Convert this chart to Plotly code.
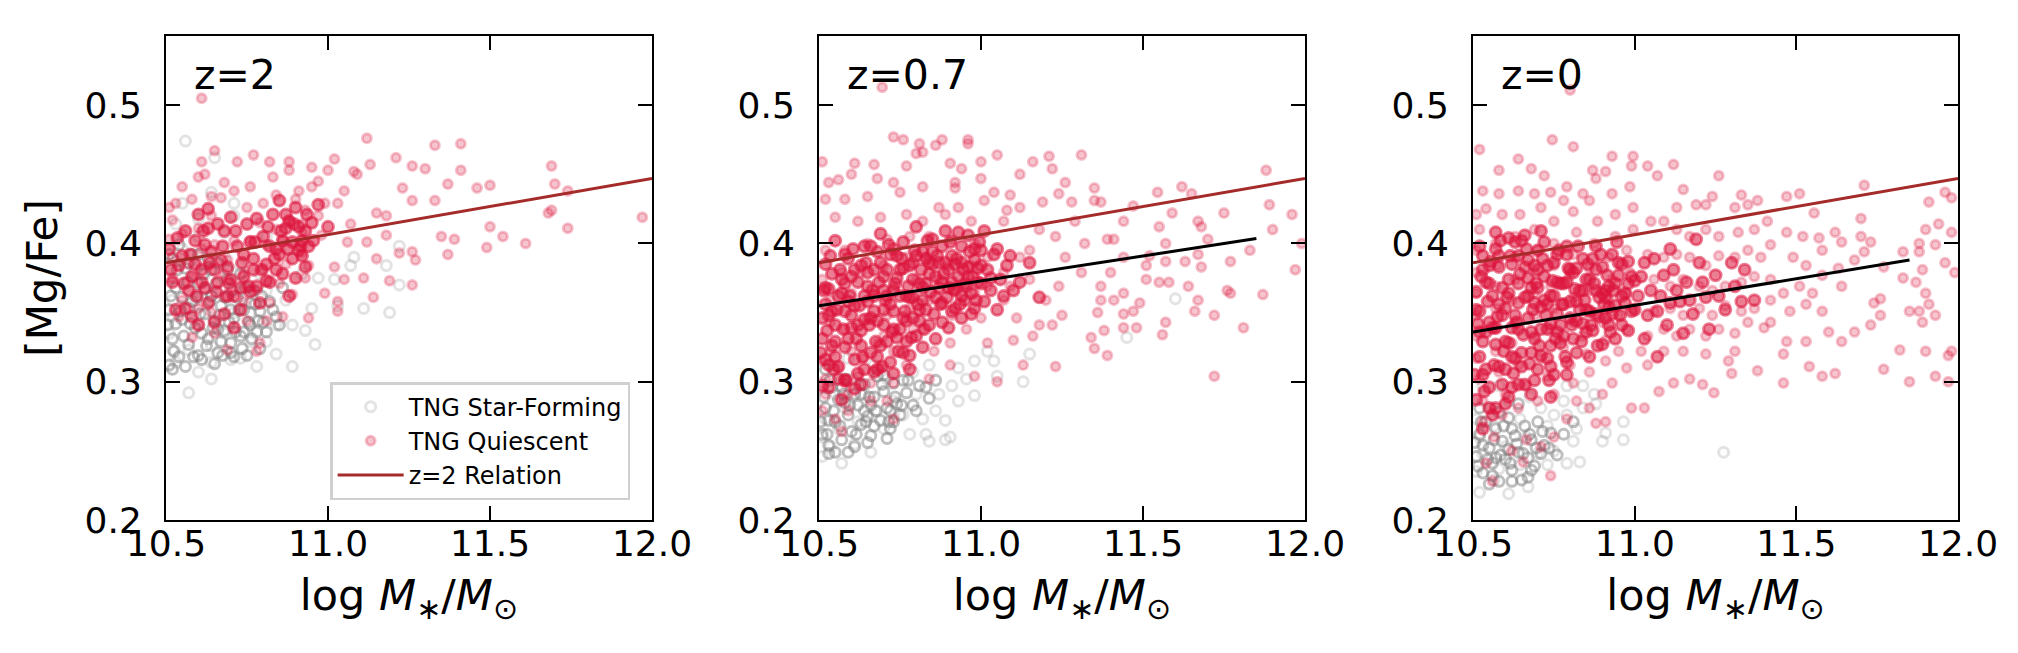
import plotly.graph_objects as go
from plotly.subplots import make_subplots

# ---- data: (log M*, [Mg/Fe]) ----
z2_sf = [(10.56,0.474),(10.65,0.462),(10.64,0.437),(10.60,0.418),(10.71,0.429),(10.57,0.292),(10.60,0.307),
         (10.64,0.302),(10.89,0.311),(10.96,0.327),(10.93,0.337),(11.11,0.353),(11.19,0.350),(11.22,0.370),
         (11.22,0.398),(11.03,0.355),(11.02,0.374),(10.95,0.353),(10.78,0.311),(10.70,0.316),(10.64,0.314),
         (10.53,0.314),(10.52,0.323),(10.51,0.335),(10.52,0.347),(10.52,0.359),(10.51,0.375),(10.53,0.387),
         (10.55,0.396),(10.57,0.372),(10.59,0.359),(10.60,0.341),(10.57,0.323),(10.64,0.326),(10.68,0.335),
         (10.71,0.350),(10.68,0.362),(10.73,0.366),(10.76,0.350),(10.76,0.329),(10.73,0.317),(10.81,0.329),
         (10.84,0.341),(10.87,0.359),(10.81,0.366),(10.79,0.378),(10.73,0.384),(10.68,0.390),(10.62,0.378),
         (10.64,0.362),(10.89,0.341),(10.84,0.320),(10.61,0.387),(10.53,0.414),(10.55,0.429),(10.60,0.405),
         (10.68,0.408),(10.71,0.420),(10.81,0.405),(10.88,0.396),(10.97,0.375),(11.08,0.390),(11.07,0.384),
         (11.18,0.384),(10.92,0.378)]
z2_sf_dense = [(10.51,0.352),(10.52,0.331),(10.53,0.368),(10.54,0.318),(10.55,0.345),(10.56,0.382),(10.57,0.327),
               (10.58,0.358),(10.59,0.339),(10.60,0.371),(10.61,0.316),(10.62,0.349),(10.63,0.331),(10.64,0.362),
               (10.65,0.344),(10.66,0.321),(10.67,0.355),(10.68,0.337),(10.69,0.374),(10.70,0.328),(10.71,0.346),
               (10.72,0.361),(10.73,0.333),(10.74,0.352),(10.75,0.319),(10.76,0.341),(10.77,0.366),(10.78,0.336),
               (10.79,0.351),(10.80,0.343),(10.82,0.358),(10.84,0.347),(10.52,0.389),(10.55,0.361),(10.58,0.392),
               (10.61,0.335),(10.64,0.381),(10.67,0.329),(10.70,0.352),(10.73,0.378),(10.76,0.357),(10.51,0.312),
               (10.53,0.342),(10.57,0.353),(10.62,0.367),(10.66,0.338),(10.71,0.318),(10.74,0.336),(10.79,0.324),
               (10.86,0.368),(10.505,0.341),(10.515,0.362),(10.525,0.322),(10.535,0.381),(10.545,0.351),
               (10.555,0.333),(10.565,0.372),(10.575,0.342),(10.585,0.318),(10.595,0.361),(10.605,0.349),
               (10.615,0.378),(10.625,0.326),(10.635,0.358),(10.645,0.339),(10.655,0.371),(10.665,0.348),
               (10.675,0.319),(10.685,0.361),(10.695,0.343),(10.705,0.366),(10.715,0.336),(10.725,0.352),
               (10.735,0.324),(10.745,0.368),(10.755,0.343),(10.765,0.331),(10.775,0.356),(10.785,0.344),
               (10.795,0.362),(10.81,0.336),(10.83,0.352),(10.85,0.341),(10.51,0.392),(10.54,0.399),(10.57,0.386),
               (10.60,0.392),(10.63,0.389),(10.66,0.386),(10.69,0.381),(10.52,0.309),(10.56,0.311),(10.60,0.319),
               (10.65,0.313),(10.70,0.321)]
z2_q = [(10.61,0.505),(11.12,0.476),(11.33,0.471),(11.41,0.472),(11.21,0.462),(11.69,0.456),(11.70,0.443),
        (11.74,0.438),(11.68,0.422),(11.69,0.424),(11.74,0.411),(11.97,0.419),(11.61,0.400),(11.49,0.397),
        (11.54,0.405),(11.50,0.412),(11.50,0.442),(11.46,0.440),(11.41,0.453),(11.37,0.443),(11.37,0.392),
        (11.39,0.403),(11.35,0.405),(11.33,0.431),(11.30,0.454),(11.26,0.456),(11.23,0.440),(11.26,0.431),
        (11.26,0.394),(11.27,0.388),(11.26,0.370),(11.22,0.393),(11.19,0.373),(11.14,0.361),(11.11,0.375),
        (11.03,0.351),(11.03,0.358),(11.18,0.420),(11.15,0.422),(11.09,0.450),(11.13,0.457),(11.08,0.452),
        (11.02,0.461),(11.00,0.453),(10.95,0.455),(10.88,0.453),(10.82,0.459),(10.77,0.464),(10.72,0.459),
        (10.65,0.467),(10.61,0.459),(10.60,0.448),(10.88,0.459),(10.83,0.448),(10.97,0.445),(11.05,0.438),
        (11.07,0.414),(10.97,0.420),(10.93,0.424),(10.90,0.432),(10.88,0.417),(10.84,0.410),(10.79,0.415),
        (10.75,0.426),(10.71,0.438),(10.67,0.433),(10.64,0.420),(10.60,0.411),(10.55,0.407),(10.53,0.429),
        (10.52,0.417),(10.51,0.403),(10.52,0.390),(10.57,0.385),(10.63,0.384),(10.69,0.388),(10.74,0.378),
        (10.80,0.381),(10.87,0.385),(10.92,0.393),(10.94,0.384),(10.93,0.375),(10.89,0.363),(10.85,0.371),
        (10.82,0.357),(10.78,0.366),(10.74,0.358),(10.68,0.361),(10.64,0.350),(10.60,0.353),(10.55,0.359),
        (10.52,0.375),(10.54,0.347),(10.58,0.332),(10.65,0.335),(10.69,0.323),(10.79,0.328),(10.78,0.322),
        (10.75,0.344),(10.81,0.344),(10.86,0.347),(10.94,0.346),(10.99,0.364),(11.05,0.374),(11.02,0.383),
        (11.06,0.401),(11.12,0.401),(11.15,0.389),(11.18,0.406),(11.03,0.429),(10.99,0.429),(10.95,0.441),
        (10.91,0.438),(10.84,0.435),(10.80,0.429),(10.76,0.441),(10.68,0.444),(10.62,0.450),(10.64,0.434),
        (10.58,0.432),(10.55,0.441),(10.51,0.426),(10.71,0.402),(10.76,0.402),(10.81,0.399),(10.86,0.402),
        (10.92,0.408),(10.98,0.406),(10.65,0.399),(10.61,0.396),(10.68,0.378),(10.58,0.375),(10.92,0.414)]
z2_q_dense = [(10.52,0.372),(10.55,0.391),(10.57,0.366),(10.59,0.402),(10.61,0.381),(10.63,0.357),(10.64,0.394),
              (10.66,0.372),(10.68,0.409),(10.69,0.383),(10.71,0.362),(10.72,0.398),(10.74,0.376),(10.75,0.414),
              (10.77,0.389),(10.78,0.369),(10.80,0.405),(10.81,0.385),(10.83,0.421),(10.84,0.396),(10.86,0.378),
              (10.87,0.411),(10.89,0.389),(10.90,0.426),(10.92,0.402),(10.93,0.383),(10.95,0.415),(10.53,0.352),
              (10.56,0.409),(10.58,0.347),(10.60,0.421),(10.62,0.368),(10.65,0.343),(10.67,0.388),(10.70,0.419),
              (10.73,0.352),(10.76,0.401),(10.79,0.357),(10.82,0.372),(10.85,0.431),(10.88,0.362),(10.91,0.412),
              (10.94,0.398),(10.54,0.384),(10.58,0.376),(10.62,0.399),(10.66,0.414),(10.70,0.374),(10.74,0.392),
              (10.78,0.418),(10.82,0.398),(10.86,0.402),(10.90,0.375),(10.97,0.428),(11.00,0.412),(10.51,0.396),
              (10.63,0.425),(10.68,0.349),(10.76,0.365),(10.84,0.381),(10.88,0.416),(10.92,0.391),
              (10.515,0.381),(10.535,0.404),(10.555,0.371),(10.575,0.392),(10.595,0.362),(10.615,0.409),
              (10.635,0.386),(10.655,0.365),(10.675,0.398),(10.695,0.371),(10.715,0.409),(10.735,0.386),
              (10.755,0.369),(10.775,0.401),(10.795,0.381),(10.815,0.412),(10.835,0.389),(10.855,0.409),
              (10.875,0.396),(10.895,0.414),(10.915,0.398),(10.935,0.421),(10.955,0.402),(10.61,0.372),
              (10.65,0.381),(10.69,0.362),(10.73,0.368),(10.77,0.381),(10.81,0.373),(10.85,0.392),(10.89,0.401),
              (10.93,0.409),(10.87,0.421),(10.91,0.395),(10.63,0.411),(10.59,0.385),(10.56,0.353),(10.60,0.341),
              (10.71,0.339)]

z07_sf = [(11.60,0.360),(11.45,0.332),(11.15,0.320),(11.13,0.300),(11.05,0.304),(11.04,0.315),(10.98,0.290),
          (10.93,0.286),(10.89,0.272),(10.89,0.258),(10.905,0.260),(10.84,0.257),(10.83,0.262),(10.78,0.262),
          (10.66,0.249),(10.57,0.241),(10.51,0.246),(10.535,0.253),(10.61,0.255),(10.70,0.266),(10.76,0.276),
          (10.82,0.273),(10.86,0.279),(10.91,0.297),(10.955,0.302),(10.87,0.291),(10.80,0.291),(10.73,0.286),
          (10.68,0.279),(10.62,0.271),(10.56,0.266),(10.51,0.260),(10.52,0.273),(10.58,0.281),(10.64,0.291),
          (10.71,0.302),(10.79,0.307),(10.84,0.312),(10.55,0.291),(10.51,0.299),(10.60,0.302),(10.67,0.312),
          (10.535,0.312),(10.59,0.317),(10.98,0.315),(11.02,0.322),(10.93,0.310)]
z07_sf_dense = [(10.51,0.262),(10.52,0.281),(10.53,0.254),(10.54,0.296),(10.55,0.271),(10.56,0.287),(10.57,0.258),
                (10.58,0.302),(10.59,0.276),(10.60,0.264),(10.61,0.291),(10.62,0.283),(10.63,0.269),(10.64,0.298),
                (10.65,0.275),(10.66,0.261),(10.67,0.289),(10.68,0.304),(10.69,0.272),(10.70,0.293),(10.71,0.281),
                (10.72,0.266),(10.73,0.299),(10.74,0.284),(10.75,0.276),(10.77,0.292),(10.79,0.283),(10.81,0.297),
                (10.52,0.309),(10.55,0.249),(10.58,0.285),(10.61,0.253),(10.64,0.279),(10.67,0.268),(10.70,0.305),
                (10.73,0.271),(10.76,0.301),(10.84,0.288),(10.86,0.301),(10.53,0.272),(10.57,0.296),(10.63,0.291),
                (10.66,0.283),(10.71,0.259),(10.505,0.271),(10.515,0.289),(10.525,0.262),(10.535,0.301),
                (10.545,0.279),(10.565,0.268),(10.575,0.291),(10.595,0.283),(10.615,0.262),(10.625,0.298),
                (10.645,0.271),(10.655,0.289),(10.675,0.279),(10.695,0.298),(10.715,0.271),(10.735,0.289),
                (10.755,0.283),(10.775,0.301),(10.53,0.248),(10.59,0.249),(10.65,0.256),(10.72,0.279),(10.80,0.279),
                (10.83,0.296)]
z07_q = [(10.695,0.513),(10.73,0.477),(10.76,0.475),(10.81,0.472),(10.82,0.466),(10.80,0.465),(10.86,0.471),
         (10.88,0.475),(10.96,0.475),(10.96,0.472),(11.05,0.464),(11.31,0.464),(11.21,0.463),(11.16,0.459),
         (11.22,0.454),(11.12,0.450),(11.00,0.459),(10.905,0.458),(10.94,0.454),(10.77,0.456),(10.67,0.457),
         (10.61,0.458),(10.51,0.459),(10.60,0.450),(10.53,0.444),(10.56,0.446),(10.68,0.447),(11.88,0.453),
         (11.89,0.428),(11.96,0.421),(11.90,0.410),(11.99,0.400),(11.97,0.381),(11.83,0.395),(11.77,0.387),
         (11.75,0.422),(11.67,0.416),(11.68,0.412),(11.62,0.441),(11.65,0.436),(11.545,0.437),(11.59,0.422),
         (11.55,0.412),(11.57,0.400),(11.57,0.387),(11.63,0.387),(11.68,0.383),(11.67,0.392),(11.70,0.403),
         (11.76,0.366),(11.77,0.364),(11.87,0.363),(11.67,0.359),(11.66,0.351),(11.72,0.348),(11.81,0.339),
         (11.72,0.304),(11.64,0.369),(11.58,0.372),(11.55,0.372),(11.51,0.374),(11.51,0.384),(11.52,0.391),
         (11.49,0.357),(11.44,0.364),(11.47,0.351),(11.44,0.349),(11.48,0.339),(11.44,0.339),(11.57,0.343),
         (11.56,0.334),(11.38,0.337),(11.34,0.332),(11.35,0.324),(11.39,0.319),(11.23,0.311),(11.13,0.312),
         (11.05,0.300),(11.10,0.330),(11.36,0.350),(11.37,0.359),(11.41,0.359),(11.37,0.369),(11.35,0.440),
         (11.35,0.431),(11.37,0.430),(11.47,0.427),(11.44,0.416),(11.41,0.403),(11.39,0.403),(11.44,0.390),
         (11.40,0.379),(11.26,0.444),(11.28,0.430),(11.24,0.436),(11.19,0.430),(11.09,0.435),(11.08,0.424),
         (11.04,0.437),(11.01,0.431),(10.92,0.440),(10.92,0.444),(10.82,0.441),(10.75,0.437),(10.73,0.444),
         (10.65,0.434),(10.58,0.432),(10.52,0.432),(10.55,0.419),(10.69,0.419),(10.77,0.421),(10.89,0.421),
         (10.97,0.416),(11.07,0.416),(11.18,0.410),(11.23,0.405),(11.29,0.416),(11.32,0.400),(11.26,0.390),
         (11.31,0.379),(11.24,0.369),(11.20,0.359),(11.25,0.348),(11.22,0.341),(11.18,0.341),(11.16,0.333),
         (11.11,0.346),(11.15,0.374),(11.12,0.390),(11.07,0.379),(11.02,0.369),(10.98,0.364),(11.00,0.346),
         (11.02,0.328),(10.98,0.304),(10.905,0.328),(10.905,0.312),(10.855,0.322),(10.84,0.302),(10.82,0.338),
         (10.77,0.312),(10.73,0.299),(10.71,0.286),(10.73,0.273),(10.66,0.286),(10.59,0.279),(10.55,0.273),
         (10.51,0.279),(10.57,0.264),(10.59,0.291),(10.52,0.291),(10.52,0.302),(10.62,0.304),(10.69,0.310),
         (10.73,0.322),(10.68,0.328),(10.60,0.322),(10.535,0.322),(10.51,0.315),(10.58,0.338),(10.535,0.343),
         (10.65,0.346),(10.71,0.348),(10.78,0.353),(10.84,0.359),(10.91,0.348),(10.93,0.369),(10.87,0.374),
         (10.80,0.374),(10.73,0.369),(10.67,0.364),(10.60,0.364),(10.535,0.359),(10.51,0.374),(10.57,0.379),
         (10.63,0.379),(10.70,0.384),(10.77,0.390),(10.83,0.390),(10.90,0.384),(10.97,0.384),(11.02,0.390),
         (10.98,0.400),(10.91,0.403),(10.84,0.405),(10.78,0.405),(10.71,0.403),(10.65,0.400),(10.58,0.395),
         (10.52,0.395),(10.62,0.416),(10.82,0.416),(10.87,0.426),(10.93,0.426),(11.00,0.447),(11.12,0.426),
         (11.15,0.395),(11.07,0.359),(11.09,0.369),(10.955,0.338),(10.79,0.338),(10.70,0.333),(10.635,0.317),
         (10.56,0.310),(10.66,0.299),(10.58,0.299)]
z07_q_dense = [(10.51,0.331),(10.52,0.356),(10.53,0.312),(10.54,0.378),(10.55,0.341),(10.56,0.302),(10.57,0.364),
               (10.58,0.325),(10.59,0.389),(10.60,0.348),(10.61,0.316),(10.62,0.372),(10.63,0.337),(10.64,0.398),
               (10.65,0.358),(10.66,0.321),(10.67,0.381),(10.68,0.344),(10.69,0.407),(10.70,0.366),(10.71,0.329),
               (10.72,0.392),(10.73,0.351),(10.74,0.375),(10.75,0.338),(10.76,0.401),(10.77,0.362),(10.78,0.384),
               (10.79,0.346),(10.80,0.412),(10.81,0.371),(10.82,0.394),(10.83,0.352),(10.84,0.378),(10.85,0.403),
               (10.86,0.361),(10.87,0.386),(10.88,0.343),(10.89,0.409),(10.90,0.368),(10.91,0.391),(10.92,0.353),
               (10.93,0.376),(10.94,0.398),(10.95,0.359),(10.96,0.383),(10.97,0.364),(10.98,0.388),(10.99,0.372),
               (11.00,0.395),(11.01,0.358),(11.02,0.381),(11.03,0.366),(11.04,0.392),(11.06,0.374),(10.51,0.297),
               (10.52,0.385),(10.53,0.348),(10.54,0.326),(10.55,0.402),(10.56,0.362),(10.57,0.287),(10.58,0.351),
               (10.59,0.331),(10.60,0.376),(10.61,0.295),(10.62,0.341),(10.63,0.384),(10.64,0.309),(10.65,0.369),
               (10.66,0.346),(10.67,0.307),(10.68,0.394),(10.69,0.326),(10.70,0.352),(10.71,0.381),(10.72,0.314),
               (10.73,0.396),(10.74,0.332),(10.75,0.362),(10.76,0.321),(10.77,0.344),(10.78,0.309),(10.79,0.374),
               (10.80,0.333),(10.81,0.352),(10.82,0.325),(10.83,0.389),(10.84,0.341),(10.86,0.331),(10.88,0.372),
               (10.90,0.339),(10.92,0.385),(10.94,0.346),(10.96,0.406),(10.98,0.353),(11.00,0.371),(11.05,0.352),
               (11.08,0.384),(11.10,0.366),(10.52,0.368),(10.55,0.318),(10.58,0.371),(10.61,0.355),(10.64,0.345),
               (10.67,0.362),(10.70,0.341),(10.73,0.366),(10.76,0.382),(10.79,0.361),(10.82,0.368),(10.85,0.385),
               (10.88,0.357),(10.91,0.372),(10.94,0.362),
               (10.505,0.321),(10.515,0.366),(10.525,0.337),(10.535,0.391),(10.545,0.309),(10.555,0.352),
               (10.565,0.381),(10.575,0.338),(10.585,0.301),(10.595,0.362),(10.605,0.396),(10.615,0.331),
               (10.625,0.355),(10.635,0.318),(10.645,0.386),(10.655,0.341),(10.665,0.366),(10.675,0.329),
               (10.685,0.372),(10.695,0.311),(10.705,0.359),(10.715,0.399),(10.725,0.336),(10.735,0.371),
               (10.745,0.322),(10.755,0.389),(10.765,0.351),(10.775,0.369),(10.785,0.332),(10.795,0.395),
               (10.805,0.356),(10.815,0.381),(10.825,0.338),(10.835,0.402),(10.845,0.365),(10.855,0.349),
               (10.865,0.391),(10.875,0.356),(10.885,0.378),(10.895,0.361),(10.905,0.401),(10.915,0.367),
               (10.925,0.389),(10.935,0.356),(10.945,0.381),(10.955,0.369),(10.965,0.394),(10.975,0.376),
               (10.985,0.359),(10.995,0.401),(10.51,0.346),(10.53,0.367),(10.55,0.329),(10.57,0.374),(10.59,0.358),
               (10.61,0.381),(10.63,0.326),(10.65,0.379),(10.67,0.351),(10.69,0.386),(10.71,0.362),(10.73,0.338),
               (10.75,0.381),(10.77,0.329),(10.79,0.386),(10.81,0.344),(10.83,0.371),(10.85,0.394),(10.87,0.368),
               (10.89,0.386),(10.91,0.351),(10.93,0.408),(10.95,0.371),(10.97,0.349),(10.99,0.382),(11.01,0.409),
               (11.03,0.375),(11.05,0.396),(11.07,0.362),(11.09,0.391),(11.12,0.372),(11.15,0.386),(11.18,0.361),
               (10.52,0.316),(10.54,0.351),(10.56,0.311),(10.58,0.392),(10.60,0.339),(10.62,0.306),(10.64,0.362),
               (10.66,0.398),(10.68,0.318),(10.70,0.376),(10.72,0.356),(10.74,0.391),(10.76,0.346),(10.78,0.361),
               (10.80,0.391),(10.82,0.359),(10.84,0.386),(10.86,0.376),(10.88,0.398),(10.90,0.381),(10.92,0.366),
               (10.94,0.386),(10.96,0.376),(10.98,0.396),(11.00,0.384),(10.53,0.296),(10.58,0.301),(10.63,0.298),
               (10.68,0.309),(10.73,0.306),(10.78,0.319)]

z0_sf = [(11.275,0.249),(10.965,0.271),(10.965,0.258),(10.90,0.257),(10.91,0.263),(10.88,0.284),(10.83,0.242),
         (10.79,0.241),(10.73,0.240),(10.67,0.224),(10.61,0.219),(10.52,0.220),(10.565,0.229),(10.51,0.235),
         (10.81,0.257),(10.75,0.250),(10.70,0.248),(10.645,0.240),(10.58,0.237),(10.53,0.248),(10.60,0.253),
         (10.665,0.260),(10.73,0.268),(10.79,0.276),(10.84,0.281),(10.875,0.291),(10.71,0.281),(10.645,0.273),
         (10.565,0.268),(10.52,0.260),(10.555,0.281),(10.61,0.286),(10.675,0.289),(10.75,0.276),(10.82,0.266),
         (10.51,0.273),(10.53,0.297),(10.58,0.297),(10.78,0.286),(10.84,0.297),(10.79,0.297)]
z0_sf_dense = [(10.51,0.246),(10.52,0.262),(10.53,0.234),(10.54,0.271),(10.55,0.252),(10.56,0.241),(10.57,0.266),
               (10.58,0.228),(10.59,0.257),(10.60,0.244),(10.61,0.274),(10.62,0.236),(10.63,0.261),(10.64,0.249),
               (10.65,0.229),(10.66,0.268),(10.67,0.245),(10.68,0.258),(10.69,0.239),(10.70,0.271),(10.72,0.254),
               (10.74,0.263),(10.76,0.247),(10.52,0.281),(10.55,0.226),(10.58,0.278),(10.61,0.251),(10.64,0.284),
               (10.67,0.231),(10.71,0.248),(10.53,0.254),(10.57,0.245),(10.62,0.266),(10.505,0.256),(10.515,0.239),
               (10.525,0.271),(10.545,0.244),(10.565,0.258),(10.585,0.247),(10.595,0.268),(10.615,0.241),
               (10.635,0.255),(10.655,0.248),(10.675,0.262),(10.695,0.252),(10.715,0.264),(10.735,0.252),
               (10.56,0.232),(10.62,0.228),(10.68,0.236),(10.78,0.262),(10.81,0.271)]
z0_q = [(10.80,0.511),(10.745,0.475),(10.81,0.470),(10.52,0.468),(10.64,0.461),(10.58,0.453),(10.68,0.454),
        (10.72,0.449),(10.93,0.463),(10.995,0.463),(10.99,0.456),(11.04,0.456),(11.12,0.457),(11.07,0.449),
        (11.26,0.449),(11.15,0.439),(10.53,0.438),(10.58,0.436),(10.64,0.438),(10.69,0.436),(10.74,0.437),
        (10.79,0.441),(10.88,0.447),(10.91,0.452),(10.87,0.453),(10.51,0.421),(10.54,0.425),(10.59,0.421),
        (11.71,0.442),(11.96,0.437),(11.98,0.433),(11.91,0.430),(11.555,0.422),(11.70,0.418),(11.70,0.405),
        (11.73,0.401),(11.94,0.414),(11.90,0.410),(11.98,0.408),(11.88,0.400),(11.93,0.399),(11.88,0.394),
        (11.83,0.394),(11.71,0.394),(11.68,0.388),(11.77,0.383),(11.96,0.386),(11.99,0.379),(11.89,0.381),
        (11.83,0.375),(11.87,0.372),(11.90,0.364),(11.91,0.356),(11.88,0.351),(11.93,0.348),(11.89,0.343),
        (11.85,0.351),(11.76,0.360),(11.74,0.357),(11.76,0.348),(11.73,0.341),(11.68,0.336),(11.64,0.329),
        (11.60,0.336),(11.53,0.329),(11.47,0.329),(11.46,0.320),(11.40,0.339),(11.82,0.323),(11.90,0.322),
        (11.98,0.322),(11.97,0.319),(11.93,0.304),(11.85,0.300),(11.97,0.300),(11.77,0.309),(11.62,0.306),
        (11.54,0.311),(11.58,0.304),(11.46,0.299),(11.38,0.308),(11.30,0.306),(11.29,0.315),(11.31,0.322),
        (11.245,0.292),(11.21,0.298),(11.17,0.302),(11.12,0.299),(11.075,0.293),(11.03,0.281),(10.99,0.281),
        (10.91,0.271),(10.88,0.270),(10.74,0.232),(10.56,0.228),(10.54,0.241),(10.655,0.242),(11.57,0.404),
        (11.62,0.408),(11.64,0.401),(11.58,0.395),(11.63,0.382),(11.58,0.377),(11.64,0.369),(11.58,0.351),
        (11.53,0.356),(11.55,0.364),(11.51,0.369),(11.46,0.364),(11.48,0.351),(11.53,0.384),(11.49,0.390),
        (11.52,0.405),(11.47,0.408),(11.42,0.399),(11.51,0.436),(11.47,0.434),(11.41,0.416),(11.38,0.431),
        (11.33,0.435),(11.35,0.428),(11.31,0.426),(11.24,0.434),(11.22,0.428),(11.19,0.428),(11.13,0.426),
        (11.09,0.416),(11.05,0.416),(11.37,0.410),(11.32,0.408),(11.26,0.405),(11.22,0.410),(11.17,0.405),
        (11.13,0.410),(11.39,0.390),(11.35,0.395),(11.31,0.390),(11.26,0.391),(11.22,0.384),(11.17,0.390),
        (11.13,0.392),(11.09,0.390),(11.04,0.392),(11.42,0.374),(11.37,0.376),(11.33,0.372),(11.28,0.369),
        (11.24,0.366),(11.20,0.369),(11.15,0.374),(11.11,0.369),(11.06,0.374),(11.42,0.359),(11.37,0.353),
        (11.33,0.351),(11.28,0.355),(11.24,0.348),(11.20,0.353),(11.15,0.348),(11.11,0.353),(11.06,0.351),
        (11.42,0.343),(11.35,0.343),(11.31,0.335),(11.26,0.338),(11.22,0.333),(11.17,0.338),(11.13,0.333),
        (11.09,0.338),(11.04,0.333),(11.02,0.322),(11.09,0.322),(11.15,0.322),(11.22,0.320),(11.04,0.312),
        (10.975,0.310),(10.93,0.299),(10.90,0.291),(10.86,0.281),(10.82,0.286),(10.79,0.273),(10.75,0.260),
        (10.71,0.253),(10.665,0.258),(10.62,0.250),(10.565,0.260),(10.53,0.271),(10.59,0.276),(10.64,0.281),
        (10.70,0.286),(10.75,0.291),(10.81,0.299),(10.86,0.307),(10.91,0.315),(10.95,0.322),(10.53,0.286),
        (10.60,0.291),(10.665,0.297),(10.73,0.304),(10.80,0.312),(10.85,0.320),(10.91,0.330),(10.975,0.338),
        (10.52,0.302),(10.58,0.307),(10.64,0.312),(10.71,0.317),(10.78,0.325),(10.84,0.333),(10.90,0.343),
        (10.95,0.348),(10.995,0.353),(10.51,0.317),(10.57,0.322),(10.62,0.328),(10.69,0.333),(10.74,0.338),
        (10.81,0.343),(10.86,0.351),(10.92,0.359),(10.975,0.364),(10.51,0.333),(10.57,0.338),(10.63,0.343),
        (10.69,0.348),(10.75,0.353),(10.81,0.361),(10.86,0.366),(10.93,0.374),(10.985,0.379),(10.51,0.348),
        (10.57,0.353),(10.62,0.359),(10.69,0.364),(10.74,0.369),(10.80,0.377),(10.86,0.382),(10.92,0.390),
        (10.975,0.395),(10.51,0.364),(10.57,0.369),(10.63,0.374),(10.69,0.379),(10.75,0.384),(10.81,0.392),
        (10.875,0.400),(10.94,0.405),(10.995,0.410),(10.51,0.379),(10.575,0.384),(10.63,0.390),(10.70,0.395),
        (10.75,0.400),(10.82,0.408),(10.885,0.416),(10.94,0.421),(10.995,0.426),(10.51,0.395),(10.57,0.400),
        (10.63,0.405),(10.69,0.410),(10.75,0.416),(10.81,0.423),(10.86,0.431),(10.93,0.436),(10.985,0.441),
        (10.52,0.410),(10.645,0.421),(10.71,0.426),(10.78,0.431),(10.84,0.436)]
z0_q_dense = [(10.51,0.352),(10.52,0.318),(10.53,0.381),(10.54,0.336),(10.55,0.296),(10.56,0.362),(10.57,0.327),
              (10.58,0.391),(10.59,0.348),(10.60,0.309),(10.61,0.374),(10.62,0.339),(10.63,0.401),(10.64,0.357),
              (10.65,0.321),(10.66,0.383),(10.67,0.346),(10.68,0.368),(10.69,0.331),(10.70,0.395),(10.71,0.354),
              (10.72,0.376),(10.73,0.338),(10.74,0.362),(10.75,0.386),(10.76,0.349),(10.77,0.371),(10.78,0.333),
              (10.79,0.392),(10.80,0.358),(10.81,0.379),(10.82,0.344),(10.83,0.366),(10.84,0.389),(10.85,0.352),
              (10.86,0.374),(10.87,0.337),(10.88,0.398),(10.89,0.361),(10.90,0.383),(10.91,0.346),(10.92,0.369),
              (10.93,0.392),(10.94,0.355),(10.95,0.377),(10.96,0.341),(10.97,0.364),(10.98,0.387),(10.99,0.351),
              (11.00,0.373),(10.51,0.287),(10.52,0.398),(10.53,0.305),(10.54,0.372),(10.55,0.343),(10.56,0.276),
              (10.57,0.408),(10.58,0.311),(10.59,0.368),(10.60,0.329),(10.61,0.289),(10.62,0.385),(10.63,0.317),
              (10.64,0.338),(10.65,0.402),(10.66,0.298),(10.67,0.362),(10.68,0.321),(10.69,0.384),(10.70,0.309),
              (10.71,0.338),(10.72,0.401),(10.73,0.317),(10.74,0.342),(10.75,0.305),(10.76,0.372),(10.77,0.328),
              (10.78,0.356),(10.79,0.314),(10.80,0.381),(10.82,0.321),(10.84,0.342),(10.86,0.318),(10.88,0.349),
              (10.90,0.327),(10.92,0.341),(10.94,0.331),(10.96,0.385),(10.98,0.337),(11.00,0.352),(11.02,0.376),
              (11.04,0.348),(11.06,0.389),(11.08,0.362),(11.10,0.341),(11.12,0.381),(11.14,0.358),(11.16,0.372),
              (11.18,0.349),(11.20,0.386),(11.22,0.361),(11.25,0.377),(11.28,0.352),(11.31,0.369),(11.34,0.381),
              (11.37,0.359),(11.03,0.331),(11.07,0.318),(11.11,0.396),(11.15,0.335),(11.19,0.403),(11.23,0.338),
              (10.52,0.336),(10.55,0.371),(10.58,0.356),(10.61,0.328),(10.64,0.371),(10.67,0.388),(10.70,0.368),
              (10.73,0.356),(10.76,0.336),(10.79,0.372),(10.82,0.358),(10.85,0.374),(10.88,0.366),(10.91,0.361),
              (10.53,0.266),(10.57,0.281),(10.62,0.296),(10.68,0.291),(10.74,0.289),
              (10.505,0.305),(10.515,0.342),(10.525,0.376),(10.535,0.293),(10.545,0.358),(10.555,0.387),
              (10.565,0.312),(10.575,0.347),(10.585,0.402),(10.595,0.322),(10.605,0.361),(10.615,0.391),
              (10.625,0.306),(10.635,0.343),(10.645,0.378),(10.655,0.334),(10.665,0.396),(10.675,0.313),
              (10.685,0.352),(10.695,0.371),(10.705,0.326),(10.715,0.389),(10.725,0.348),(10.735,0.301),
              (10.745,0.373),(10.755,0.331),(10.765,0.395),(10.775,0.356),(10.785,0.318),(10.795,0.382),
              (10.805,0.341),(10.815,0.367),(10.825,0.398),(10.835,0.329),(10.845,0.359),(10.855,0.385),
              (10.865,0.341),(10.875,0.371),(10.885,0.326),(10.895,0.392),(10.905,0.356),(10.915,0.377),
              (10.925,0.336),(10.935,0.366),(10.945,0.401),(10.955,0.348),(10.51,0.365),(10.53,0.329),
              (10.55,0.384),(10.57,0.339),(10.59,0.298),(10.61,0.364),(10.63,0.348),(10.65,0.311),(10.67,0.375),
              (10.69,0.357),(10.71,0.319),(10.73,0.384),(10.75,0.362),(10.77,0.341),(10.79,0.398),(10.81,0.331),
              (10.83,0.352),(10.85,0.336),(10.87,0.389),(10.89,0.347),(10.91,0.366),(10.93,0.349),(10.95,0.386),
              (10.97,0.357),(10.99,0.376),(11.01,0.362),(11.03,0.386),(11.05,0.366),(11.07,0.351),(11.09,0.377),
              (11.11,0.357),(11.13,0.366),(11.17,0.359),(11.21,0.372),(11.26,0.362),(11.30,0.386),(11.33,0.358),
              (10.52,0.351),(10.54,0.309),(10.56,0.339),(10.58,0.383),(10.60,0.353),(10.62,0.318),(10.64,0.391),
              (10.66,0.361),(10.68,0.336),(10.70,0.381),(10.72,0.359),(10.74,0.326),(10.76,0.392),(10.78,0.371),
              (10.80,0.346),(10.82,0.382),(10.84,0.366),(10.86,0.351),(10.88,0.381),(10.90,0.364),(10.92,0.354),
              (10.94,0.371),(10.96,0.362),(10.98,0.371),(10.53,0.391),(10.57,0.396),(10.61,0.404),(10.66,0.406),
              (10.71,0.409),(10.55,0.281),(10.60,0.284),(10.64,0.298),(10.69,0.301),(10.74,0.311),(10.79,0.305)]

# fitted relations
z2_rel_x = [10.5, 12.0]
z2_rel_y = [0.386, 0.447]
z07_fit_x = [10.5, 11.85]
z07_fit_y = [0.355, 0.4035]
z0_fit_x = [10.5, 11.85]
z0_fit_y = [0.336, 0.388]

panel_labels = ["z=2", "z=0.7", "z=0"]
x_ticks = [10.5, 11.0, 11.5, 12.0]
y_ticks = [0.2, 0.3, 0.4, 0.5]

RED = "220,20,60"
GREY = "128,128,128"
FONT = "DejaVu Sans"


def xs(pts):
    return [p[0] for p in pts]


def ys(pts):
    return [p[1] for p in pts]


def sf_trace(pts, alpha, show):
    return go.Scatter(
        x=xs(pts), y=ys(pts), mode="markers", name="TNG Star-Forming", showlegend=show,
        legendrank=1,
        marker=dict(symbol="circle-open", size=10, color=f"rgba({GREY},{alpha})",
                    line=dict(width=3, color=f"rgba({GREY},{alpha})")),
    )


def q_trace(pts, alpha, size, show):
    return go.Scatter(
        x=xs(pts), y=ys(pts), mode="markers", name="TNG Quiescent", showlegend=show,
        legendrank=2,
        marker=dict(symbol="circle", size=size, color=f"rgba({RED},{alpha})",
                    line=dict(width=3, color=f"rgba({RED},{alpha})")),
    )


fig = make_subplots(rows=1, cols=3)

panels = [
    (z2_sf, z2_sf_dense, z2_q, z2_q_dense, None, None),
    (z07_sf, z07_sf_dense, z07_q, z07_q_dense, z07_fit_x, z07_fit_y),
    (z0_sf, z0_sf_dense, z0_q, z0_q_dense, z0_fit_x, z0_fit_y),
]

for i, (sf, sf_d, q, q_d, fx, fy) in enumerate(panels):
    col = i + 1
    first = i == 0
    fig.add_trace(sf_trace(sf, 0.22, first), row=1, col=col)
    fig.add_trace(sf_trace(sf_d, 0.5, False), row=1, col=col)
    fig.add_trace(q_trace(q, 0.25, 9, first), row=1, col=col)
    fig.add_trace(q_trace(q_d, 0.55, 11, False), row=1, col=col)
    fig.add_trace(
        go.Scatter(x=z2_rel_x, y=z2_rel_y, mode="lines", name="z=2 Relation", showlegend=first,
                   legendrank=3, line=dict(color="#a52a2a", width=3)),
        row=1, col=col,
    )
    if fx is not None:
        fig.add_trace(
            go.Scatter(x=fx, y=fy, mode="lines", showlegend=False, line=dict(color="black", width=3)),
            row=1, col=col,
        )
    sfx = str(col) if col > 1 else ""
    fig.add_annotation(
        text=panel_labels[i], xref=f"x{sfx} domain", yref=f"y{sfx} domain",
        x=0.053, y=0.92, xanchor="left", yanchor="middle", showarrow=False,
        font=dict(family=FONT, size=41, color="black"),
    )

domains = [[0.0, 0.2712], [0.3644, 0.6356], [0.7294, 1.0]]
for i in range(3):
    fig.update_xaxes(
        domain=domains[i], range=[10.5, 12.0], tickvals=x_ticks, tickformat=".1f",
        ticks="inside", ticklen=14, tickwidth=2, tickcolor="black",
        showline=True, linecolor="black", linewidth=2, mirror="allticks",
        showgrid=False, zeroline=False, ticklabelstandoff=-9,
        tickfont=dict(family=FONT, size=36, color="black"),
        title=dict(text="log <i>M</i><sub>∗</sub>/<i>M</i><sub>⊙</sub>", standoff=17,
                   font=dict(family=FONT, size=43, color="black")),
        row=1, col=i + 1,
    )
    fig.update_yaxes(
        range=[0.2, 0.55], tickvals=y_ticks, tickformat=".1f",
        ticks="inside", ticklen=14, tickwidth=2, tickcolor="black",
        showline=True, linecolor="black", linewidth=2, mirror="allticks",
        showgrid=False, zeroline=False, ticklabelstandoff=15,
        tickfont=dict(family=FONT, size=36, color="black"),
        row=1, col=i + 1,
    )
fig.update_yaxes(title=dict(text="[Mg/Fe]", standoff=14, font=dict(family=FONT, size=42, color="black")),
                 row=1, col=1)

fig.update_layout(
    width=2018, height=653,
    margin=dict(l=158, r=68, t=28, b=141),
    plot_bgcolor="white", paper_bgcolor="white",
    font=dict(family=FONT, color="black"),
    legend=dict(x=0.0916, y=0.285, xanchor="left", yanchor="top", itemwidth=66,
                bgcolor="rgba(255,255,255,0.85)", bordercolor="#d0d0d0", borderwidth=2.5,
                font=dict(family=FONT, size=24, color="black")),
)

fig.write_html("out.html")
